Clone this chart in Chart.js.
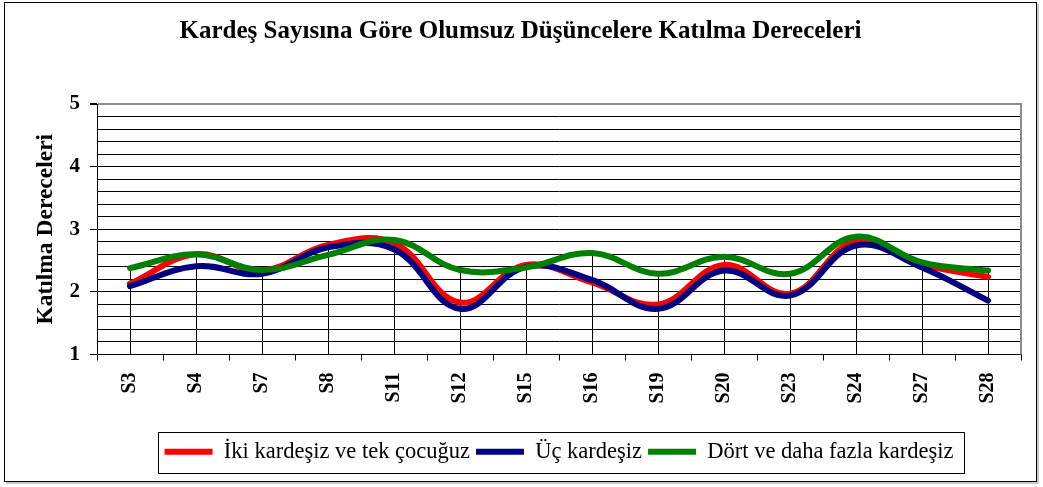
<!DOCTYPE html>
<html>
<head>
<meta charset="utf-8">
<script src="https://cdn.jsdelivr.net/npm/chart.js@4.4.1/dist/chart.umd.min.js"></script>
<style>
  html, body { margin: 0; padding: 0; background: #fff; }
  #wrap { width: 1043px; height: 487px; }
</style>
</head>
<body>
<div id="wrap"><canvas id="c" width="1043" height="487"></canvas></div>
<script>
const categories = ['S3','S4','S7','S8','S11','S12','S15','S16','S19','S20','S23','S24','S27','S28'];
const seriesNames = ['İki kardeşiz ve tek çocuğuz', 'Üç kardeşiz', 'Dört ve daha fazla kardeşiz'];
const ikiValues  = [2.13, 2.60, 2.34, 2.75, 2.78, 1.83, 2.43, 2.15, 1.80, 2.43, 1.97, 2.81, 2.44, 2.24];
const ucValues   = [2.09, 2.41, 2.29, 2.71, 2.68, 1.73, 2.40, 2.19, 1.73, 2.34, 1.94, 2.74, 2.39, 1.86];
const dortValues = [2.38, 2.60, 2.35, 2.59, 2.83, 2.35, 2.39, 2.62, 2.29, 2.56, 2.29, 2.88, 2.47, 2.34];
const yMin = 1, yMax = 5, yMinorStep = 0.2;
const titleText = 'Kardeş Sayısına Göre Olumsuz Düşüncelere Katılma Dereceleri';
const yTitleText = 'Katılma Dereceleri';

const SERIF = '"Liberation Serif", "Times New Roman", serif';
const isInt = v => Math.abs(v - Math.round(v)) < 1e-6;

const framePlugin = {
  id: 'frame',
  beforeDraw(chart) {
    const ctx = chart.ctx;
    ctx.save();
    ctx.fillStyle = '#fff';
    ctx.fillRect(0, 0, chart.width, chart.height);
    ctx.strokeStyle = '#c8c8c8';
    ctx.lineWidth = 2;
    ctx.beginPath();
    ctx.moveTo(6, 483); ctx.lineTo(1038, 483); ctx.lineTo(1038, 4);
    ctx.stroke();
    ctx.strokeStyle = '#000';
    ctx.lineWidth = 1;
    ctx.strokeRect(4.5, 2.5, 1032, 479);
    ctx.restore();
  },
  beforeDatasetsDraw(chart) {
    // drop lines from highest series value down to the axis
    const ctx = chart.ctx;
    const xs = chart.scales.x, ys = chart.scales.y;
    const area = chart.chartArea;
    ctx.save();
    ctx.strokeStyle = '#000';
    ctx.lineWidth = 1;
    categories.forEach((c, i) => {
      const top = Math.max(...chart.data.datasets.map(d => d.data[i]));
      const x = Math.round(xs.getPixelForValue(i)) + 0.5;
      ctx.beginPath();
      ctx.moveTo(x, ys.getPixelForValue(top));
      ctx.lineTo(x, area.bottom);
      ctx.stroke();
    });
    // right border of plot area
    ctx.strokeStyle = '#8c8c8c';
    ctx.lineWidth = 2;
    ctx.beginPath();
    ctx.moveTo(area.right, area.top - 1);
    ctx.lineTo(area.right, area.bottom);
    ctx.stroke();
    ctx.restore();
  },
  afterDraw(chart) {
    const lg = chart.legend;
    if (!lg || !lg.legendHitBoxes || !lg.legendHitBoxes.length) return;
    const hb = lg.legendHitBoxes;
    const left = Math.min(...hb.map(b => b.left)) - 7;
    const right = Math.max(...hb.map(b => b.left + b.width)) + 10;
    const cy = hb[0].top + hb[0].height / 2;
    const ctx = chart.ctx;
    ctx.save();
    ctx.strokeStyle = '#000';
    ctx.lineWidth = 1;
    ctx.strokeRect(Math.round(left) + 0.5, Math.round(cy - 20) + 0.5, Math.round(right - left), 41);
    ctx.restore();
  }
};

function ds(label, data, color, order) {
  return {
    label, data,
    borderColor: color,
    backgroundColor: color,
    borderWidth: 6,
    borderCapStyle: 'round',
    borderJoinStyle: 'round',
    pointRadius: 0,
    pointHoverRadius: 0,
    tension: 0.4,
    fill: false,
    order
  };
}

new Chart(document.getElementById('c'), {
  type: 'line',
  data: {
    labels: categories,
    datasets: [
      ds(seriesNames[0], ikiValues, '#ff0000', 2),
      ds(seriesNames[1], ucValues, '#000080', 1),
      ds(seriesNames[2], dortValues, '#008000', 0)
    ]
  },
  options: {
    responsive: false,
    animation: false,
    devicePixelRatio: 1,
    layout: { padding: { left: 20, right: 22, top: 0, bottom: 14 } },
    plugins: {
      tooltip: { enabled: false },
      title: {
        display: true,
        text: titleText,
        color: '#000',
        font: { family: SERIF, size: 25, weight: 'bold' },
        padding: { top: 17, bottom: 57 }
      },
      legend: {
        position: 'bottom',
        fullSize: false,
        labels: {
          usePointStyle: true,
          pointStyle: 'line',
          pointStyleWidth: 48,
          color: '#000',
          font: { family: SERIF, size: 22.5 },
          padding: 6,
          sort: (a, b) => a.datasetIndex - b.datasetIndex
        }
      }
    },
    scales: {
      x: {
        type: 'category',
        offset: true,
        afterFit(s) { s.height = 80; },
        grid: {
          offset: true,
          drawOnChartArea: false,
          drawTicks: true,
          tickLength: 6,
          color: '#000',
          lineWidth: 1
        },
        border: { color: '#000', width: 1 },
        ticks: {
          autoSkip: false,
          maxRotation: 90,
          minRotation: 90,
          padding: 12,
          color: '#000',
          font: { family: SERIF, size: 20, weight: 'bold' }
        }
      },
      y: {
        min: yMin,
        max: yMax,
        afterFit(s) { s.width = 77; },
        title: {
          display: true,
          text: yTitleText,
          color: '#000',
          font: { family: SERIF, size: 23.5, weight: 'bold' },
          padding: { top: 12, bottom: 0 }
        },
        border: { color: '#000', width: 1 },
        grid: {
          drawTicks: true,
          tickLength: 7,
          color: c => (c.tick && c.tick.value === yMax) ? '#8c8c8c' : '#000',
          lineWidth: c => (c.tick && c.tick.value === yMax) ? 2 : 1,
          tickColor: c => (c.tick && isInt(c.tick.value)) ? '#000' : 'rgba(0,0,0,0)'
        },
        ticks: {
          stepSize: yMinorStep,
          autoSkip: false,
          padding: 10,
          color: '#000',
          font: { family: SERIF, size: 21, weight: 'bold' },
          callback: v => isInt(v) ? String(Math.round(v)) : ''
        }
      }
    }
  },
  plugins: [framePlugin]
});
</script>
</body>
</html>
